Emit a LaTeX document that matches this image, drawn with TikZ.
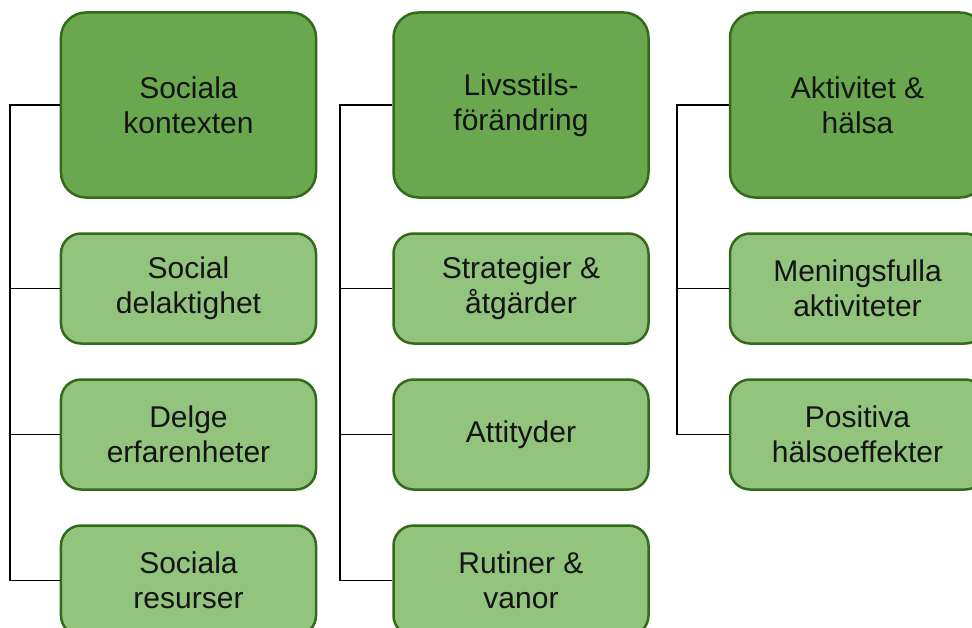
\documentclass[tikz,border=0pt]{standalone}
\usepackage{fontspec}
\setmainfont{Liberation Sans}
\usepackage{xcolor}
\usepackage{tikz}
\usetikzlibrary{positioning}
\definecolor{HeadFill}{HTML}{6AA84F}
\definecolor{ItemFill}{HTML}{93C47D}
\definecolor{Edge}{HTML}{336B1A}
\definecolor{Ink}{HTML}{141414}

\begin{document}
\begin{tikzpicture}[
  x=1bp, y=-1bp,
  node distance=33.5bp,
  head/.style={draw=Edge, line width=2.5bp, rounded corners=25bp, fill=HeadFill,
    minimum width=255bp, minimum height=185bp, align=center, text=Ink,
    font=\fontsize{30bp}{35bp}\selectfont},
  item/.style={head, rounded corners=20bp, fill=ItemFill, minimum height=110bp},
  link/.style={draw=black, line width=1.8bp}
]
  \useasboundingbox (0,0) rectangle (972,628);

  % kolumn 1
  \node[head] (kontext) at (188.5,105) {Sociala\\kontexten};
  \node[item, below=of kontext] (delaktig) {Social\\delaktighet};
  \node[item, below=of delaktig] (erfaren) {Delge\\erfarenheter};
  \node[item, below=of erfaren] (resurser) {Sociala\\resurser};

  % kolumn 2
  \node[head] (livsstil) at (521,105) {Livsstils-\\förändring};
  \node[item, below=of livsstil] (strategi) {Strategier \&\\åtgärder};
  \node[item, below=of strategi] (attityd) {Attityder};
  \node[item, below=of attityd] (rutiner) {Rutiner \&\\vanor};

  % kolumn 3
  \node[head] (aktivitet) at (857.5,105) {Aktivitet \&\\hälsa};
  \node[item, below=of aktivitet] (mening) {Meningsfulla\\aktiviteter};
  \node[item, below=of mening] (positiv) {Positiva\\hälsoeffekter};

  \coordinate (spineA) at ([xshift=-50bp]kontext.west);
  \coordinate (spineB) at ([xshift=-52bp]livsstil.west);
  \coordinate (spineC) at ([xshift=-52bp]aktivitet.west);

  \draw[link] (kontext.west) -- (spineA) |- (resurser.west);
  \foreach \n in {delaktig,erfaren}
    \draw[link] (spineA) |- (\n.west);

  \draw[link] (livsstil.west) -- (spineB) |- (rutiner.west);
  \foreach \n in {strategi,attityd}
    \draw[link] (spineB) |- (\n.west);

  \draw[link] (aktivitet.west) -- (spineC) |- (positiv.west);
  \draw[link] (spineC) |- (mening.west);
\end{tikzpicture}
\end{document}
